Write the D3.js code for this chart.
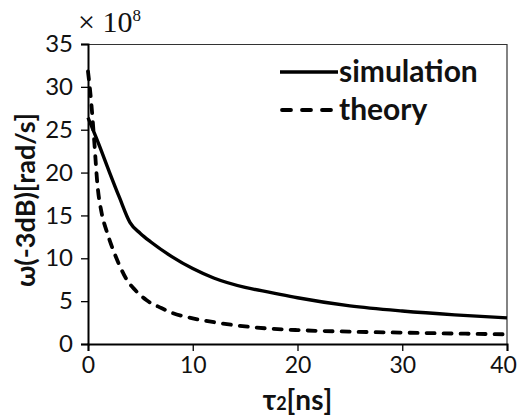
<!DOCTYPE html>
<html>
<head>
<meta charset="utf-8">
<script src="https://cdn.jsdelivr.net/npm/d3@7"></script>
<style>
  body { margin: 0; background: #fff; }
  svg { display: block; }
</style>
</head>
<body>
<svg id="chart"></svg>
<script>
// data (values in units of 1e8 rad/s)
const simT = [0, 1, 2, 3, 4, 5, 6, 8, 10, 12, 15, 17.5, 20, 25, 30, 35, 40];
const simW = [26.4, 23.4, 20.2, 17.1, 14.2, 12.9, 11.9, 10.2, 8.8, 7.7, 6.6, 6.0, 5.4, 4.45, 3.85, 3.4, 3.05];

const thT = [0, 0.3, 0.6, 0.9, 1.3, 1.8, 2.3, 3, 3.7, 4.5, 5.6, 7, 8.1, 10, 12.5, 15, 17.5, 20, 25, 30, 35, 40];
const thW = [31.8, 28.3, 23.6, 18.6, 15.3, 13.1, 11.3, 9.2, 7.5, 6.3, 5.1, 4.2, 3.6, 3.0, 2.45, 2.05, 1.78, 1.62, 1.44, 1.33, 1.22, 1.13];

const xTicks = [0, 10, 20, 30, 40];
const yTicks = [0, 5, 10, 15, 20, 25, 30, 35];
const legendNames = ["simulation", "theory"];

const width = 519, height = 419;
const margin = { top: 44, right: 12, bottom: 75, left: 88 };
const plotWidth = width - margin.left - margin.right;
const plotHeight = height - margin.top - margin.bottom;
const font = "Lato, 'Open Sans', sans-serif";

const svg = d3.select("#chart").attr("width", width).attr("height", height);
const plotArea = svg.append("g")
  .attr("transform", `translate(${margin.left},${margin.top})`);

const xAxis = d3.scaleLinear().domain([0, 40]).range([0, plotWidth]);
const yAxis = d3.scaleLinear().domain([0, 35]).range([plotHeight, 0]);

// frame: thin top and right lines
plotArea.append("path")
  .attr("d", `M0,0.5H${plotWidth}V${plotHeight}`)
  .attr("fill", "none").attr("stroke", "#333").attr("stroke-width", 1.2);

// axes
const gx = plotArea.append("g")
  .attr("transform", `translate(0,${plotHeight})`)
  .call(d3.axisBottom(xAxis).tickValues(xTicks).tickSizeOuter(0).tickSize(7).tickPadding(5));
const gy = plotArea.append("g")
  .call(d3.axisLeft(yAxis).tickValues(yTicks).tickSizeOuter(0).tickSize(7).tickPadding(8));

[gx, gy].forEach(g => {
  g.select(".domain").attr("stroke", "#000").attr("stroke-width", 2);
  g.selectAll(".tick line").attr("stroke", "#000").attr("stroke-width", 1.3);
  g.selectAll(".tick text")
    .attr("fill", "#111")
    .attr("font-family", font)
    .attr("font-size", 24);
});
gx.selectAll(".tick text")
  .attr("font-size", 23)
  .attr("dy", "0.75em")
  .attr("dx", d => d === 40 ? -4 : 0);

// curves
const kmLine = d3.line()
  .x(d => xAxis(d[0]))
  .y(d => yAxis(d[1]))
  .curve(d3.curveMonotoneX);

plotArea.append("path")
  .datum(d3.zip(thT, thW))
  .attr("fill", "none")
  .attr("stroke", "#000")
  .attr("stroke-width", 3.8)
  .attr("stroke-linecap", "round")
  .attr("stroke-dasharray", "8,9")
  .attr("d", kmLine);

plotArea.append("path")
  .datum(d3.zip(simT, simW))
  .attr("fill", "none")
  .attr("stroke", "#000")
  .attr("stroke-width", 3.4)
  .attr("d", kmLine);

// legend
const legend = svg.append("g").attr("transform", "translate(280,72)");
legend.append("line")
  .attr("x1", 0).attr("x2", 58).attr("y1", 0).attr("y2", 0)
  .attr("stroke", "#000").attr("stroke-width", 3.4);
legend.append("line")
  .attr("x1", 2).attr("x2", 54).attr("y1", 38).attr("y2", 38)
  .attr("stroke", "#000").attr("stroke-width", 3.8)
  .attr("stroke-linecap", "round")
  .attr("stroke-dasharray", "9,11");
legend.selectAll("text")
  .data(legendNames)
  .enter()
  .append("text")
  .attr("x", 59)
  .attr("y", (d, i) => 10 + i * 38)
  .attr("font-family", font)
  .attr("font-weight", "bold")
  .attr("font-size", 30)
  .attr("fill", "#111")
  .text(d => d);

// exponent label
const expo = svg.append("text")
  .attr("x", 78).attr("y", 32)
  .attr("font-family", "'Liberation Serif', 'DejaVu Serif', serif")
  .attr("font-size", 30)
  .attr("fill", "#111");
expo.append("tspan").text("× 10");
expo.append("tspan").attr("dy", -11).attr("font-size", 17).text("8");

// axis titles
svg.append("text")
  .attr("transform", `translate(35,${margin.top + plotHeight / 2 + 6}) rotate(-90)`)
  .attr("text-anchor", "middle")
  .attr("font-family", font)
  .attr("font-weight", "bold")
  .attr("font-size", 27)
  .attr("fill", "#111")
  .text("ω(-3dB)[rad/s]");

const xt = svg.append("text")
  .attr("x", margin.left + plotWidth / 2)
  .attr("y", 410)
  .attr("text-anchor", "middle")
  .attr("font-family", font)
  .attr("font-weight", "bold")
  .attr("font-size", 28)
  .attr("fill", "#111");
xt.append("tspan").text("τ");
xt.append("tspan").attr("font-size", 18).text("2");
xt.append("tspan").text("[ns]");
</script>
</body>
</html>
